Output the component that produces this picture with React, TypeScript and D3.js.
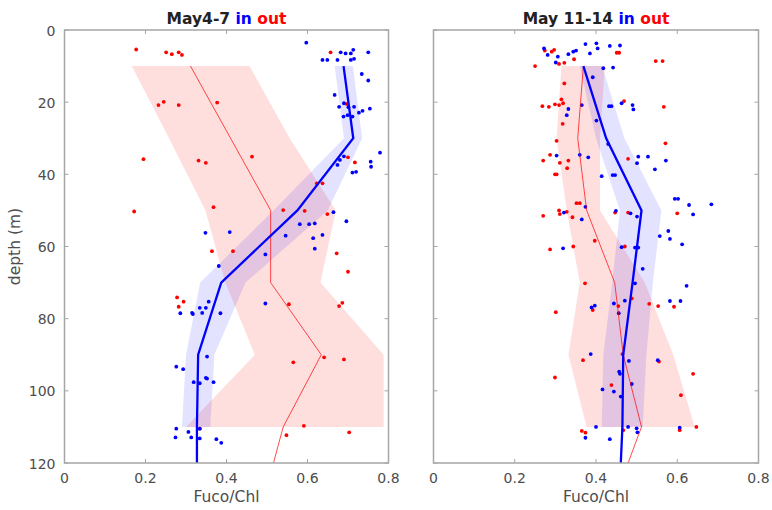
import React from "react";
import * as d3 from "d3";

// ---- profile depths ----
const lineDepths = [10, 30, 50, 70, 90, 110, 120];
const bandDepths = [10, 30, 50, 70, 90, 110];

// ---- Panel 1: May4-7 ----
const p1InMean = [0.689, 0.713, 0.575, 0.387, 0.33, 0.327, 0.327];
const p1InLo = [0.667, 0.69, 0.516, 0.335, 0.3, 0.29];
const p1InHi = [0.712, 0.735, 0.65, 0.447, 0.37, 0.36];
const p1OutMean = [0.311, 0.41, 0.509, 0.509, 0.634, 0.54, 0.516];
const p1OutLo = [0.166, 0.258, 0.348, 0.397, 0.47, 0.3];
const p1OutHi = [0.457, 0.556, 0.67, 0.632, 0.788, 0.788];

// points [Fuco/Chl, depth]
const p1InPts: [number, number][] = [
  [0.597, 3.5], [0.75, 6.2], [0.682, 6.2], [0.694, 6.5], [0.707, 6.5], [0.713, 5.5],
  [0.637, 8.3], [0.649, 8.3], [0.674, 8.3], [0.707, 8.3], [0.715, 8.0],
  [0.734, 12.2], [0.75, 14], [0.667, 18],
  [0.678, 21.3], [0.69, 20.3], [0.701, 21.4], [0.715, 21.3], [0.727, 22.9], [0.736, 22.4], [0.754, 21.8],
  [0.689, 24], [0.699, 23.6], [0.711, 24],
  [0.779, 34], [0.756, 36.5], [0.757, 37.9], [0.68, 36], [0.69, 35], [0.674, 37.4],
  [0.711, 39.5], [0.72, 39.3],
  [0.664, 50.5], [0.696, 53], [0.581, 53.8], [0.604, 53.8], [0.618, 53.6],
  [0.546, 57], [0.637, 56.8], [0.614, 57.7], [0.618, 60.6],
  [0.348, 56.2], [0.408, 56], [0.496, 62.2], [0.381, 65.4], [0.496, 75.8],
  [0.334, 77], [0.349, 77], [0.356, 75.3], [0.34, 78.4], [0.315, 78.4], [0.286, 78.5], [0.385, 78.5], [0.317, 78.7],
  [0.276, 93.3], [0.293, 94], [0.352, 90.5],
  [0.319, 97.6], [0.334, 97.9], [0.349, 96.4], [0.352, 96.6], [0.368, 97.6],
  [0.276, 110.5], [0.274, 112.9], [0.306, 111.4], [0.313, 112.9], [0.334, 110.5], [0.334, 113.2], [0.375, 113.4], [0.387, 114.4],
];
const p1OutPts: [number, number][] = [
  [0.177, 5.4], [0.251, 6.2], [0.265, 6.7], [0.282, 6.2], [0.29, 6.9], [0.657, 6.2],
  [0.232, 20.8], [0.245, 19.9], [0.282, 20.8], [0.377, 20.1], [0.697, 20.5],
  [0.195, 35.8], [0.331, 36.2], [0.349, 36.8], [0.463, 35.1], [0.7, 35.3], [0.717, 36.7],
  [0.172, 50.3], [0.368, 49.1], [0.623, 42.5], [0.637, 42.5],
  [0.54, 49.9], [0.593, 50.1], [0.649, 51],
  [0.364, 61.3], [0.416, 61.3], [0.672, 61.9], [0.7, 67],
  [0.278, 74.1], [0.294, 75.3], [0.282, 76.7], [0.554, 76], [0.678, 76.5], [0.686, 75.6],
  [0.565, 92.1], [0.641, 90.7], [0.69, 91.3],
  [0.334, 110.5], [0.591, 109.7], [0.703, 111.5], [0.548, 112.3],
];

// ---- Panel 2: May 11-14 ----
const p2InMean = [0.369, 0.425, 0.512, 0.49, 0.467, 0.465, 0.461];
const p2InLo = [0.36, 0.4, 0.459, 0.44, 0.418, 0.414];
const p2InHi = [0.415, 0.47, 0.561, 0.54, 0.524, 0.515];
const p2OutMean = [0.369, 0.355, 0.377, 0.446, 0.467, 0.512, 0.479];
const p2OutLo = [0.315, 0.303, 0.328, 0.36, 0.332, 0.377];
const p2OutHi = [0.422, 0.41, 0.41, 0.52, 0.59, 0.643];

const p2InPts: [number, number][] = [
  [0.272, 5.1], [0.374, 3.9], [0.401, 3.7], [0.404, 5.1], [0.434, 4.4], [0.459, 4.3],
  [0.281, 6.9], [0.306, 7.4], [0.332, 6.7], [0.344, 6], [0.351, 5.7], [0.385, 6.5],
  [0.301, 9], [0.418, 10.6], [0.442, 10.4], [0.392, 13.1],
  [0.332, 21.9], [0.328, 23.6], [0.365, 20.8], [0.432, 21.1], [0.438, 21.1], [0.463, 20.3], [0.49, 20.8], [0.492, 22],
  [0.401, 25.1], [0.43, 31.6], [0.303, 34.8], [0.36, 34.6], [0.381, 35.3],
  [0.504, 35.1], [0.528, 35.1], [0.501, 36.9], [0.572, 36.2],
  [0.545, 38.6], [0.414, 40.5], [0.441, 40.2], [0.447, 40.2],
  [0.594, 46.8], [0.602, 46.8], [0.629, 48.5], [0.684, 48.3], [0.639, 51.1],
  [0.374, 49], [0.321, 50.6], [0.365, 52.5], [0.449, 50.1], [0.485, 50.8], [0.501, 51.7],
  [0.578, 55.7], [0.557, 57.1], [0.582, 57.9], [0.612, 59.4],
  [0.319, 60.5], [0.463, 60.2], [0.496, 60.3], [0.504, 60.3], [0.515, 66.2], [0.496, 70.2], [0.623, 70.9],
  [0.471, 75], [0.582, 75.1], [0.608, 75.1], [0.389, 76.9], [0.397, 76.4], [0.444, 75.8], [0.456, 78.5],
  [0.387, 89.8], [0.481, 91.7], [0.552, 91.5], [0.457, 94.7], [0.459, 95.3], [0.488, 98.1],
  [0.416, 99.6], [0.444, 100.2], [0.461, 101.6],
  [0.4, 110], [0.479, 110], [0.5, 110.4], [0.502, 111.5], [0.606, 110.2], [0.374, 113], [0.434, 113.4],
];
const p2OutPts: [number, number][] = [
  [0.274, 5.7], [0.291, 6], [0.297, 5.5], [0.451, 6.3], [0.457, 6.3],
  [0.25, 10], [0.309, 9.4], [0.322, 9.1], [0.346, 8.1], [0.547, 8.6], [0.564, 8.6],
  [0.322, 14.8], [0.315, 19.2], [0.319, 20.3],
  [0.268, 21.1], [0.284, 21.3], [0.299, 20.6], [0.309, 20.8], [0.469, 19.7], [0.567, 21.3],
  [0.318, 26], [0.303, 30.7], [0.571, 31.4],
  [0.287, 34.6], [0.27, 36.2], [0.311, 36.8], [0.332, 36.2], [0.329, 38.3], [0.479, 35.7],
  [0.299, 40], [0.303, 40], [0.352, 48], [0.36, 48],
  [0.309, 50], [0.311, 51], [0.328, 50.4], [0.27, 51.5], [0.342, 51.9],
  [0.447, 50.6], [0.479, 50.6], [0.6, 50.8],
  [0.397, 58.4], [0.287, 60.8], [0.344, 60], [0.471, 60],
  [0.373, 70.2], [0.488, 74.4], [0.455, 76.5], [0.531, 75.9], [0.553, 76.5], [0.392, 77.6], [0.592, 76.7], [0.301, 78.2],
  [0.465, 89.8], [0.368, 91.5], [0.555, 91.9], [0.299, 96.3], [0.639, 95.3], [0.438, 98.4], [0.609, 101.2],
  [0.365, 111.1], [0.374, 111.6], [0.467, 110.9], [0.606, 110.9], [0.647, 110],
];

const xTicks = [0, 0.2, 0.4, 0.6, 0.8];
const yTicks = [0, 20, 40, 60, 80, 100, 120];

const BLUE = "#0000ff";
const RED = "#ff0000";
const AXIS = "#a6a6a6";
const TEXT = "#4d4d4d";
const FONT = "'DejaVu Sans', sans-serif";

type PanelProps = {
  left: number;
  right: number;
  top: number;
  bottom: number;
  title: string;
  inMean: number[];
  inLo: number[];
  inHi: number[];
  outMean: number[];
  outLo: number[];
  outHi: number[];
  inPts: [number, number][];
  outPts: [number, number][];
  showY: boolean;
};

function Panel(p: PanelProps) {
  const x = d3.scaleLinear().domain([0, 0.8]).range([p.left, p.right]);
  const y = d3.scaleLinear().domain([0, 120]).range([p.top, p.bottom]);

  const bandPath = (lo: number[], hi: number[]) => {
    const data = bandDepths.map((dd, i) => ({ d: dd, lo: lo[i], hi: hi[i] }));
    return d3
      .area<{ d: number; lo: number; hi: number }>()
      .y((v) => y(v.d))
      .x0((v) => x(v.lo))
      .x1((v) => x(v.hi))(data) as string;
  };
  const linePath = (vals: number[]) =>
    d3
      .line<number>()
      .x((v) => x(v))
      .y((_, i) => y(lineDepths[i]))(vals) as string;

  const cx = (p.left + p.right) / 2;
  const tl = 4;

  return (
    <g>
      <rect x={p.left} y={p.top} width={p.right - p.left} height={p.bottom - p.top} fill="#fff" />
      <path d={bandPath(p.outLo, p.outHi)} fill={RED} fillOpacity={0.13} />
      <path d={bandPath(p.inLo, p.inHi)} fill={BLUE} fillOpacity={0.11} />
      {p.outPts.map((pt, i) => (
        <circle key={"o" + i} cx={x(pt[0])} cy={y(pt[1])} r={1.9} fill={RED} />
      ))}
      {p.inPts.map((pt, i) => (
        <circle key={"i" + i} cx={x(pt[0])} cy={y(pt[1])} r={1.9} fill={BLUE} />
      ))}
      <path d={linePath(p.outMean)} fill="none" stroke={RED} strokeOpacity={0.7} strokeWidth={1} />
      <path d={linePath(p.inMean)} fill="none" stroke={BLUE} strokeWidth={2.3} />
      <rect
        x={p.left}
        y={p.top}
        width={p.right - p.left}
        height={p.bottom - p.top}
        fill="none"
        stroke={AXIS}
        strokeWidth={1.5}
      />
      {xTicks.map((t) => (
        <g key={"xt" + t}>
          <line x1={x(t)} x2={x(t)} y1={p.bottom} y2={p.bottom - tl} stroke={AXIS} />
          <line x1={x(t)} x2={x(t)} y1={p.top} y2={p.top + tl} stroke={AXIS} />
          <text x={x(t)} y={p.bottom + 20} textAnchor="middle" fontSize={14} fill={TEXT} fontFamily={FONT}>
            {t === 0 ? "0" : String(t)}
          </text>
        </g>
      ))}
      {yTicks.map((t) => (
        <g key={"yt" + t}>
          <line x1={p.left} x2={p.left + tl} y1={y(t)} y2={y(t)} stroke={AXIS} />
          <line x1={p.right} x2={p.right - tl} y1={y(t)} y2={y(t)} stroke={AXIS} />
          {p.showY && (
            <text x={p.left - 9} y={y(t) + 5.5} textAnchor="end" fontSize={14} fill={TEXT} fontFamily={FONT}>
              {t}
            </text>
          )}
        </g>
      ))}
      <text x={cx} y={p.bottom + 39} textAnchor="middle" fontSize={15.5} fill={TEXT} fontFamily={FONT}>
        Fuco/Chl
      </text>
      <text x={cx} y={24} textAnchor="middle" fontSize={15.5} fontWeight="bold" fontFamily={FONT}>
        <tspan fill="#222">{p.title} </tspan>
        <tspan fill={BLUE}>in </tspan>
        <tspan fill={RED}>out</tspan>
      </text>
    </g>
  );
}

export default function App() {
  const top = 30;
  const bottom = 463;
  return (
    <svg width={772} height={510} style={{ position: "absolute", left: 0, top: 0, background: "#fff" }}>
      <rect width={772} height={510} fill="#fff" />
      <Panel
        left={64.5}
        right={388.5}
        top={top}
        bottom={bottom}
        title="May4-7"
        inMean={p1InMean}
        inLo={p1InLo}
        inHi={p1InHi}
        outMean={p1OutMean}
        outLo={p1OutLo}
        outHi={p1OutHi}
        inPts={p1InPts}
        outPts={p1OutPts}
        showY={true}
      />
      <Panel
        left={433.5}
        right={758.5}
        top={top}
        bottom={bottom}
        title="May 11-14"
        inMean={p2InMean}
        inLo={p2InLo}
        inHi={p2InHi}
        outMean={p2OutMean}
        outLo={p2OutLo}
        outHi={p2OutHi}
        inPts={p2InPts}
        outPts={p2OutPts}
        showY={false}
      />
      <text
        transform={`translate(20, ${(top + bottom) / 2}) rotate(-90)`}
        textAnchor="middle"
        fontSize={15.5}
        fill={TEXT}
        fontFamily={FONT}
      >
        depth (m)
      </text>
    </svg>
  );
}
